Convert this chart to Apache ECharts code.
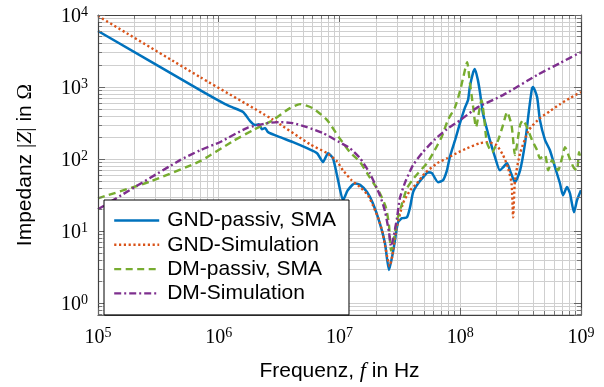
<!DOCTYPE html>
<html><head><meta charset="utf-8">
<script src="https://cdn.jsdelivr.net/npm/echarts@6/dist/echarts.min.js"></script>
<style>html,body{margin:0;padding:0;background:#fff}#c{width:604px;height:387px}</style>
</head><body><div id="c"></div>
<script>
// ---- data (frequency in Hz, impedance in Ohm) ----
const xMin = 1e5, xMax = 1e9, yMin = 0.69, yMax = 1e4;
const seriesNames = ['GND-passiv, SMA', 'GND-Simulation', 'DM-passiv, SMA', 'DM-Simulation'];
const seriesColors = ['#0072BD', '#D95319', '#77AC30', '#7E2F8E'];
const seriesDash = ['solid', [2.2, 2.6], [7, 4.5], [7, 3, 2, 3]];

const gndPassivF = [1e5,7.0e5,1.13e6,1.29e6,1.59e6,1.82e6,2.0e6,2.15e6,2.28e6,2.42e6,2.56e6,3.21e6,4.12e6,5.38e6,6.52e6,7.3e6,8.04e6,8.83e6,9.73e6,1.07e7,1.17e7,1.34e7,1.48e7,1.69e7,1.89e7,2.16e7,2.38e7,2.57e7,2.74e7,2.88e7,3.05e7,3.3e7,3.62e7,3.84e7,4.07e7,4.47e7,5.1e7,5.4e7,5.83e7,6.55e7,7.2e7,7.76e7,8.2e7,9.06e7,9.95e7,1.09e8,1.16e8,1.2e8,1.28e8,1.32e8,1.40e8,1.46e8,1.54e8,1.76e8,1.94e8,2.13e8,2.26e8,2.44e8,2.58e8,2.84e8,3.13e8,3.44e8,3.71e8,3.93e8,4.0e8,4.33e8,4.57e8,5.04e8,5.53e8,6.1e8,6.7e8,7.1e8,7.66e8,8.1e8,8.75e8,9.27e8,1e9];
const gndPassivZ = [6000,908,581,527,450,337,297,306,261,270,237,202,172,142,121,91,121,103,51,27,37,46,44,35,24.5,12.9,6.8,2.9,4.6,7.5,13.3,15.2,15.6,21.5,35,46,60,66,64,48,51,70,107,184,316,511,659,1000,1615,1778,1250,826,435,184,107,70,77,88,70,48,70,167,480,968,1000,726,348,184,133,77,46,31.6,41,33.7,18.4,27,37];

const gndSimF = [1e5,7.0e5,2.76e6,5.7e6,7.9e6,9.5e6,1.07e7,1.26e7,1.48e7,1.72e7,1.89e7,2.08e7,2.25e7,2.38e7,2.5e7,2.6e7,2.74e7,2.94e7,3.36e7,3.84e7,4.37e7,5.1e7,6.44e7,7.76e7,9.3e7,1.14e8,1.46e8,1.7e8,2.0e8,2.26e8,2.48e8,2.66e8,2.74e8,2.84e8,3.13e8,3.7e8,4.57e8,5.53e8,6.7e8,8.1e8,1e9];
const gndSimZ = [9700,1377,360,161,121,94,70,51,41,31.6,23,15.6,10.3,6.4,4.2,3.3,4.6,10.3,24.5,37,46,64,88,103,121,142,167,172,156,114,77,46,15.6,51,121,253,370,464,580,703,853];

const dmPassivF = [1e5,2.7e5,7.0e5,1.31e6,1.92e6,2.81e6,3.89e6,4.71e6,6.0e6,7.9e6,1.0e7,1.22e7,1.48e7,1.78e7,2.16e7,2.42e7,2.57e7,2.67e7,2.83e7,3.0e7,3.3e7,3.62e7,4.0e7,4.47e7,5.3e7,5.95e7,7.0e7,7.9e7,9.06e7,1.0e8,1.06e8,1.14e8,1.2e8,1.28e8,1.35e8,1.5e8,1.57e8,1.66e8,1.83e8,2.06e8,2.26e8,2.44e8,2.66e8,2.84e8,3.13e8,3.3e8,3.57e8,3.93e8,4.33e8,4.57e8,5.04e8,5.35e8,5.76e8,6.45e8,6.96e8,7.37e8,8.1e8,8.75e8,9.27e8,9.63e8,1e9];
const dmPassivZ = [28.7,49,94,178,253,348,511,581,511,348,196,125,91,56,33.7,21.5,12.1,5.4,8,14.2,24.5,39.5,51,64,88,121,202,348,527,908,1377,2220,1172,527,278,659,408,172,125,184,297,450,297,114,297,348,278,184,133,103,114,70,97,70,103,147,100,75,70,125,97];

const dmSimF = [1e5,4.78e5,7.0e5,1.02e6,1.71e6,2.51e6,3.21e6,4.12e6,5.38e6,7.3e6,1.0e7,1.22e7,1.48e7,1.78e7,2.16e7,2.38e7,2.57e7,2.67e7,2.79e7,3.0e7,3.16e7,3.5e7,4.07e7,4.9e7,6.2e7,7.76e7,1.0e8,1.40e8,2.26e8,4.33e8,6.7e8,1e9];
const dmSimZ = [20.2,97,133,172,270,316,327,316,278,230,172,142,103,64,31.6,19,9.7,6.2,8.0,15.6,28.7,48,83,125,190,261,348,527,774,1468,2154,3060];

// ---- helpers ----
const pairs = (F, Z) => F.map((f, i) => [f, Z[i]]);
function powLabel(v) {
  const e = Math.round(Math.log10(v));
  if (Math.abs(Math.log10(v) - e) > 1e-6) return '';
  return '{b|10}{s|' + e + '}';
}
const tickRich = {
  b: {fontFamily: 'Liberation Serif', fontSize: 20, color: '#000', lineHeight: 20, padding: [3, 0, 0, 0]},
  s: {fontFamily: 'Liberation Serif', fontSize: 14, color: '#000', lineHeight: 14, verticalAlign: 'top'}
};
const nameRich = {
  a: {fontFamily: 'Liberation Sans', fontSize: 21, color: '#000'},
  i: {fontFamily: 'Liberation Serif', fontStyle: 'italic', fontSize: 22, color: '#000'},
  m: {fontFamily: 'Liberation Serif', fontSize: 21, color: '#000'}
};

// grid lines at 1..9 x 10^n
const gridX = [], gridY = [], minorX = [], minorY = [];
for (let n = 5; n < 9; n++) for (let k = 1; k < 10; k++) { gridX.push(k * Math.pow(10, n)); if (k > 1) minorX.push(k * Math.pow(10, n)); }
for (let n = -1; n < 4; n++) for (let k = 1; k < 10; k++) {
  const v = k * Math.pow(10, n);
  if (v > yMin) { gridY.push(v); if (k > 1) minorY.push(v); }
}
const fy = Math.pow(10, 4 / 72.3), fx = Math.pow(10, 4 / 120.75);
const tickSegs = [];
minorX.forEach(x => {
  tickSegs.push([{coord: [x, yMin]}, {coord: [x, yMin * fy]}]);
  tickSegs.push([{coord: [x, yMax]}, {coord: [x, yMax / fy]}]);
});
minorY.forEach(y => {
  tickSegs.push([{coord: [xMin, y]}, {coord: [xMin * fx, y]}]);
  tickSegs.push([{coord: [xMax, y]}, {coord: [xMax / fx, y]}]);
});

const axisCommon = {
  type: 'log', logBase: 10, z: 3,
  axisLine: {show: true, onZero: false, lineStyle: {color: '#404040', width: 1.2}},
  axisTick: {show: true, inside: true, length: 7, lineStyle: {color: '#666', width: 1}},
  splitLine: {show: false}, minorTick: {show: false}, minorSplitLine: {show: false}
};

const lineBase = {type: 'line', symbol: 'none', showSymbol: false, smooth: 0.2, animation: false, z: 2, emphasis: {disabled: true}};
const mkSeries = (i, F, Z) => Object.assign({}, lineBase, {
  name: seriesNames[i], data: pairs(F, Z), z: 2 + i * 0.01,
  lineStyle: {color: seriesColors[i], width: i === 0 ? 2.5 : 2.4, type: seriesDash[i]},
  itemStyle: {color: seriesColors[i]}
});

const chart = echarts.init(document.getElementById('c'), null, {renderer: 'canvas'});
chart.setOption({
  animation: false,
  backgroundColor: '#fff',
  grid: {left: 98, right: 23, top: 15, bottom: 71, containLabel: false},
  legend: {
    z: 10, left: 104, top: 200, orient: 'vertical', icon: 'line',
    data: seriesNames.map((n, i) => ({name: n, icon: 'line',
      itemStyle: {color: seriesColors[i], borderColor: seriesColors[i], borderWidth: 2.4, borderType: seriesDash[i]}})),
    itemWidth: 45, itemHeight: 14, itemGap: 3.3,
    padding: [10, 13, 11, 9],
    backgroundColor: '#fff', borderColor: '#000', borderWidth: 1, borderRadius: 0,
    textStyle: {fontFamily: 'Liberation Sans', fontSize: 21, color: '#000', lineHeight: 20, padding: [0, 0, 0, 3]},
    selectedMode: false
  },
  xAxis: [
    Object.assign({}, axisCommon, {
      position: 'bottom', min: xMin, max: xMax,
      axisLabel: {margin: 11, formatter: powLabel, rich: tickRich},
      name: '{a|Frequenz, }{i|f}{a| in Hz}', nameLocation: 'middle', nameGap: 45,
      nameTextStyle: {rich: nameRich}
    }),
    Object.assign({}, axisCommon, {position: 'top', min: xMin, max: xMax, axisLabel: {show: false}})
  ],
  yAxis: [
    Object.assign({}, axisCommon, {
      position: 'left', min: yMin, max: yMax,
      axisLabel: {margin: 10, formatter: powLabel, rich: tickRich},
      name: '{a|Impedanz }{m||}{i|Z}{m||}{a| in }{m|Ω}', nameLocation: 'middle', nameRotate: 90, nameGap: 62,
      nameTextStyle: {rich: nameRich}
    }),
    Object.assign({}, axisCommon, {position: 'right', min: yMin, max: yMax, axisLabel: {show: false}})
  ],
  series: [
    {name: 'grid', type: 'line', data: [], z: 1, silent: true, animation: false,
     markLine: {z: 1, silent: true, animation: false, symbol: ['none', 'none'], label: {show: false}, emphasis: {disabled: true},
       lineStyle: {color: '#cfcfcf', width: 1, type: 'solid'},
       data: gridX.map(v => ({xAxis: v})).concat(gridY.map(v => ({yAxis: v})))}},
    mkSeries(0, gndPassivF, gndPassivZ),
    mkSeries(1, gndSimF, gndSimZ),
    mkSeries(2, dmPassivF, dmPassivZ),
    mkSeries(3, dmSimF, dmSimZ),
    {name: 'ticks', type: 'line', data: [], z: 3, silent: true, animation: false,
     markLine: {z: 3, silent: true, animation: false, symbol: ['none', 'none'], label: {show: false}, emphasis: {disabled: true},
       lineStyle: {color: '#777', width: 1, type: 'solid'}, data: tickSegs}}
  ]
});
</script>
</body></html>
